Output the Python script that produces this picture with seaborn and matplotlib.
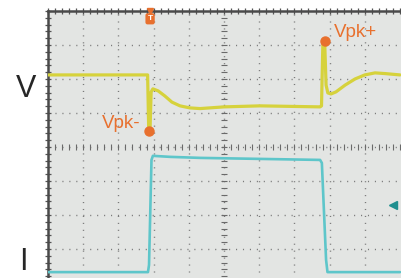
import numpy as np
import matplotlib
matplotlib.use("Agg")
import matplotlib.pyplot as plt
import pandas as pd
import seaborn as sns

# time axis and levels are in screen divisions (10 x 8 grid)
v_time = [0.0, 2.83, 2.86, 2.90, 2.93, 2.98, 3.13, 3.32, 3.52, 3.75, 4.03, 4.32,
          5.0, 6.02, 7.16, 7.73, 7.77, 7.81, 7.86, 7.90, 7.95, 8.04, 8.18, 8.44,
          8.72, 9.0, 9.29, 9.57, 10.0]
v_level = [6.12, 6.12, 4.56, 4.56, 5.62, 5.71, 5.65, 5.50, 5.32, 5.21, 5.15, 5.13,
           5.18, 5.21, 5.19, 5.18, 5.21, 7.09, 7.09, 5.82, 5.59, 5.56, 5.62, 5.82,
           6.0, 6.12, 6.18, 6.16, 6.12]

i_time = [0.0, 2.84, 2.87, 2.94, 2.98, 3.47, 4.32, 6.02, 7.73, 7.78, 7.90, 7.94, 10.0]
i_level = [0.32, 0.32, 0.53, 3.62, 3.74, 3.71, 3.68, 3.65, 3.62, 3.53, 0.68, 0.32, 0.32]

peak_labels = ["Vpk-", "Vpk+"]
peak_time = [2.87, 7.87]
peak_level = [4.47, 7.12]

YELLOW = "#d6d23c"
CYAN = "#5ec6ca"
ORANGE = "#e8702e"
GRIDC = "#7a7a7a"

sns.set_style("white")
plt.rcParams['font.family'] = ['Liberation Sans', 'DejaVu Sans']

fig = plt.figure(figsize=(4.01, 2.78), dpi=100)
ax = fig.add_axes([48 / 401, -5 / 278, 353 / 401, 272 / 278])
ax.set_facecolor("#e3e5e3")
ax.set_xlim(0, 353 / 35.2)
ax.set_ylim(0, 8)

# grid
for gx in range(1, 10):
    ax.axvline(gx, color=GRIDC, lw=1, linestyle=(0, (0.8, 4.2)), zorder=1)
for gy in range(1, 8):
    ax.axhline(gy, color=GRIDC, lw=1, linestyle=(0, (0.8, 4.2)), zorder=1)

# minor ticks on centre axes and border
minor_x = np.arange(0, 10.01, 0.2)
minor_y = np.arange(0, 8.01, 0.2)
ax.plot(minor_x, np.full_like(minor_x, 4), ls="none", marker="|", ms=5, mew=0.8, color="#6a6a6a", zorder=1)
ax.plot(np.full_like(minor_y, 5), minor_y, ls="none", marker="_", ms=5, mew=0.8, color="#6a6a6a", zorder=1)
ax.plot(minor_x, np.full_like(minor_x, 8), ls="none", marker="|", ms=4, mew=0.9, color="#555555", zorder=1, clip_on=False)
ax.plot(np.full_like(minor_y, 0), minor_y, ls="none", marker="_", ms=4, mew=0.9, color="#555555", zorder=1, clip_on=False)

v_df = pd.DataFrame({"t": v_time, "v": v_level})
i_df = pd.DataFrame({"t": i_time, "i": i_level})
sns.lineplot(data=v_df, x="t", y="v", color=YELLOW, lw=2.3, sort=False, estimator=None, ax=ax, zorder=3)
sns.lineplot(data=i_df, x="t", y="i", color=CYAN, lw=1.9, sort=False, estimator=None, ax=ax, zorder=3)

# peak markers
ax.plot(peak_time, peak_level, ls="none", marker="o", ms=6.5, color=ORANGE, zorder=4)
ax.text(1.53, 4.56, peak_labels[0], color=ORANGE, fontsize=13.5, ha="left", va="baseline")
ax.text(8.12, 7.24, peak_labels[1], color=ORANGE, fontsize=13.5, ha="left", va="baseline")

# trigger marker and ground marker
ax.text(2.90, 7.77, "T", color="white", fontsize=6, fontweight="bold", ha="center", va="center",
        bbox=dict(boxstyle="round,pad=0.25", fc=ORANGE, ec="none"), zorder=5, clip_on=False)
ax.plot([2.90], [8.0], marker="v", ms=4, color=ORANGE, zorder=5, clip_on=False)
ax.plot([9.80], [2.29], marker="<", ms=6, color="#1f8f8f", zorder=5)

ax.set_xticks([])
ax.set_yticks([])
ax.set_xlabel("")
ax.set_ylabel("")
for side in ["right", "bottom"]:
    ax.spines[side].set_visible(False)
for side in ["top", "left"]:
    ax.spines[side].set_color("#4a4a4a")
    ax.spines[side].set_linewidth(1.8)

fig.text(26 / 401, 1 - 97 / 278, "V", fontsize=22, ha="center", va="baseline")
fig.text(23 / 401, 1 / 278, "I", fontsize=22, ha="center", va="bottom")

fig.savefig("out.png", dpi=100)
